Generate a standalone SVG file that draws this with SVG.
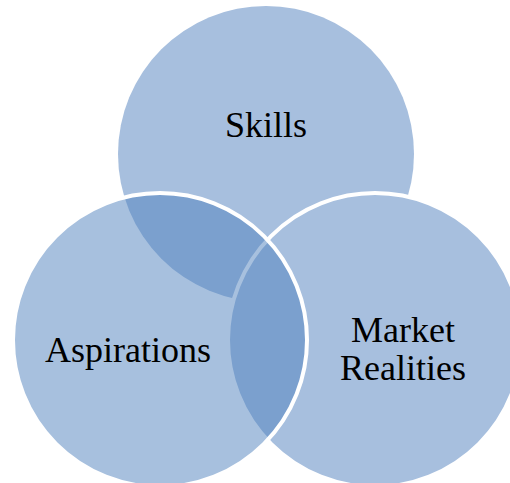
<svg xmlns="http://www.w3.org/2000/svg" width="510" height="483" viewBox="0 0 510 483">
  <style>
    .solid { fill: #a7bfde; }
    .glass { fill: #4f81bd; fill-opacity: 0.5; }
    .ring { stroke: #ffffff; stroke-width: 4; }
    .label { font-family: "Liberation Serif", "Times New Roman", serif; font-size: 36px; fill: #000000; text-anchor: middle; }
  </style>
  <rect width="510" height="483" fill="#ffffff"/>
  <g id="skills">
    <circle class="solid" cx="266" cy="154" r="148"/>
    <text class="label" x="266" y="137">Skills</text>
  </g>
  <g id="market-realities">
    <circle class="solid ring" cx="375" cy="340" r="147"/>
    <text class="label" x="403" y="342">Market</text>
    <text class="label" x="403" y="380">Realities</text>
  </g>
  <g id="aspirations">
    <circle class="glass ring" cx="160" cy="340" r="147"/>
    <text class="label" x="128" y="362">Aspirations</text>
  </g>
</svg>
